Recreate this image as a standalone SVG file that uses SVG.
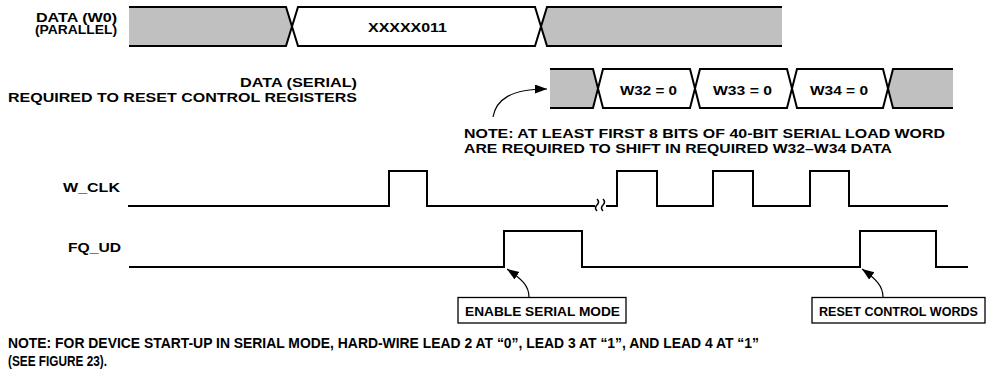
<svg xmlns="http://www.w3.org/2000/svg" width="987" height="377" viewBox="0 0 987 377">
<style>
  text { font-family: "Liberation Sans", Arial, sans-serif; font-weight: bold; fill: #000; }
  .lbl { font-size: 12.5px; }
  .bus { font-size: 13.5px; }
  .note { font-size: 13px; }
  .cond { font-size: 14.5px; }
  .boxt { font-size: 13px; }
  .sig { fill: none; stroke: #000; stroke-width: 2; stroke-linejoin: miter; }
  .gray { fill: #c0c0c0; stroke: none; }
  .box { fill: #fff; stroke: #000; stroke-width: 1.3; }
  .lead { fill: none; stroke: #000; stroke-width: 1.2; }
</style>
<defs>
  <marker id="ah" markerUnits="userSpaceOnUse" markerWidth="13" markerHeight="10" refX="12" refY="4.5" orient="auto">
    <path d="M0 0 L12 4.5 L0 9 Z" fill="#000"/>
  </marker>
</defs>

<g id="data-parallel">
  <polygon class="gray" points="129,7 286,7 292,26.5 286,46 129,46"/>
  <polygon class="gray" points="541,26.5 547,7 782,7 782,46 547,46"/>
  <path class="sig" d="M129 7 H286 L298 46 H535 L547 7 H782"/>
  <path class="sig" d="M129 46 H286 L298 7 H535 L547 46 H782"/>
  <text class="bus" x="368" y="32" textLength="79" lengthAdjust="spacingAndGlyphs">XXXXX011</text>
  <text class="lbl" x="36" y="21.5" textLength="81" lengthAdjust="spacingAndGlyphs">DATA (W0)</text>
  <text class="lbl" x="35" y="34" textLength="82" lengthAdjust="spacingAndGlyphs">(PARALLEL)</text>
</g>

<g id="data-serial">
  <polygon class="gray" points="550,69 593,69 598,88.5 593,108 550,108"/>
  <polygon class="gray" points="888,88.5 893,69 953,69 953,108 893,108"/>
  <path class="sig" d="M550 69 H593 L603 108 H690 L700 69 H787 L797 108 H883 L893 69 H953"/>
  <path class="sig" d="M550 108 H593 L603 69 H690 L700 108 H787 L797 69 H883 L893 108 H953"/>
  <text class="bus" x="620" y="95" textLength="57" lengthAdjust="spacingAndGlyphs">W32 = 0</text>
  <text class="bus" x="713" y="95" textLength="59" lengthAdjust="spacingAndGlyphs">W33 = 0</text>
  <text class="bus" x="810" y="95" textLength="58" lengthAdjust="spacingAndGlyphs">W34 = 0</text>
  <text class="lbl" x="240" y="87" textLength="117" lengthAdjust="spacingAndGlyphs">DATA (SERIAL)</text>
  <text class="lbl" x="8" y="101.5" textLength="349" lengthAdjust="spacingAndGlyphs">REQUIRED TO RESET CONTROL REGISTERS</text>
</g>

<g id="note-serial">
  <text class="note" x="464" y="138" textLength="481" lengthAdjust="spacingAndGlyphs">NOTE: AT LEAST FIRST 8 BITS OF 40-BIT SERIAL LOAD WORD</text>
  <text class="note" x="464" y="153" textLength="428" lengthAdjust="spacingAndGlyphs">ARE REQUIRED TO SHIFT IN REQUIRED W32–W34 DATA</text>
</g>

<g id="w-clk">
  <text class="lbl" x="63" y="192" textLength="57" lengthAdjust="spacingAndGlyphs">W_CLK</text>
  <path class="sig" d="M128 206 H389 V171 H427 V206 H595 M606 206 H617 V171 H657 V206 H713 V171 H753 V206 H810 V171 H849 V206 H948"/>
  <path fill="none" stroke="#000" stroke-width="1.5" d="M597 199 q 3 3 0 6 q -3 3 0 6 M603 199 q 3 3 0 6 q -3 3 0 6"/>
</g>

<g id="fq-ud">
  <text class="lbl" x="68" y="252" textLength="53" lengthAdjust="spacingAndGlyphs">FQ_UD</text>
  <path class="sig" d="M129 267 H504 V231 H582 V267 H860 V231 H936 V267 H968"/>
</g>

<g id="enable-serial-mode">
  <rect class="box" x="458" y="297.5" width="168" height="25.5"/>
  <text class="boxt" x="465" y="315.5" textLength="155" lengthAdjust="spacingAndGlyphs">ENABLE SERIAL MODE</text>
</g>

<g id="reset-control-words">
  <rect class="box" x="812" y="297.5" width="173" height="25.5"/>
  <text class="boxt" x="819" y="315.5" textLength="159" lengthAdjust="spacingAndGlyphs">RESET CONTROL WORDS</text>
</g>

<g id="connectors">
  <path class="lead" marker-end="url(#ah)" d="M493 117 C 496 100 510 89 547 89"/>
  <path class="lead" marker-end="url(#ah)" d="M529 297 C 529 286 522 279 507 269"/>
  <path class="lead" marker-end="url(#ah)" d="M883 297 C 883 286 876 279 862 269"/>
</g>

<g id="footnote">
  <text class="cond" x="8" y="348" textLength="751" lengthAdjust="spacingAndGlyphs">NOTE: FOR DEVICE START-UP IN SERIAL MODE, HARD-WIRE LEAD 2 AT “0”, LEAD 3 AT “1”, AND LEAD 4 AT “1”</text>
  <text class="cond" x="8" y="366" textLength="99" lengthAdjust="spacingAndGlyphs">(SEE FIGURE 23).</text>
</g>
</svg>
